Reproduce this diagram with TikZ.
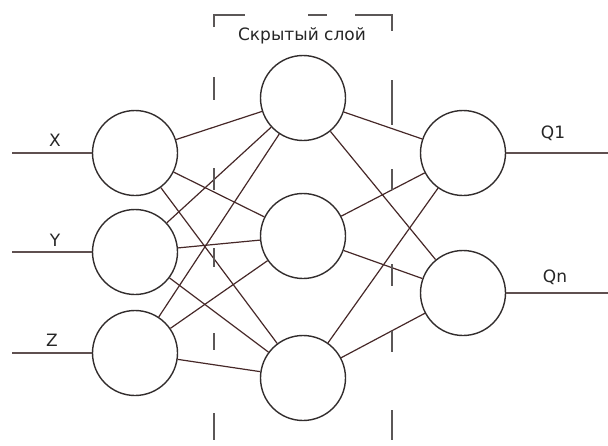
\documentclass[tikz,border=0pt]{standalone}
\usepackage{fontspec}
\setmainfont{DejaVu Sans}
\definecolor{nodeline}{RGB}{50,45,45}
\definecolor{edgeline}{RGB}{70,40,40}
\definecolor{inline}{RGB}{95,80,80}

\begin{document}
\begin{tikzpicture}[x=1pt,y=-1pt,
  neuron/.style={draw=nodeline,circle,line width=1.4pt,minimum size=85pt,inner sep=0pt},
  link/.style={draw=edgeline,line width=1.2pt},
  feed/.style={draw=inline,line width=1.5pt},
  frame/.style={draw=nodeline!80,line width=1.5pt},
  lbl/.style={font=\fontsize{17}{20}\selectfont,text=black!85}]
  \useasboundingbox (0,0) rectangle (608,445);

  % Layers
  \node[neuron] (x) at (135,153) {};
  \node[neuron] (y) at (135,252) {};
  \node[neuron] (z) at (135,353) {};
  \node[neuron] (h1) at (303,98) {};
  \node[neuron] (h2) at (303,236) {};
  \node[neuron] (h3) at (303,378) {};
  \node[neuron] (q1) at (463,153) {};
  \node[neuron] (qn) at (463,293) {};

  % Inputs and outputs
  \coordinate (xin) at (12,153);
  \coordinate (yin) at (12,252);
  \coordinate (zin) at (12,353);
  \coordinate (q1out) at (608,153);
  \coordinate (qnout) at (608,293);
  \path[feed] (xin) -- (x.west);
  \path[feed] (yin) -- (y.west);
  \path[feed] (zin) -- (z.west);
  \path[feed] (q1.east) -- (q1out);
  \path[feed] (qn.east) -- (qnout);
  \node[lbl] (xl) at (55,140) {X};
  \node[lbl] (yl) at (55,240) {Y};
  \node[lbl] (zl) at (52,340) {Z};
  \node[lbl] (q1l) at (553,133) {Q1};
  \node[lbl] (qnl) at (555,277) {Qn};

  % Connections
  \foreach \a in {x,y,z}
    \foreach \b in {h1,h2,h3}
      \path[link] (\a) -- (\b);
  \foreach \a in {h1,h2,h3}
    \foreach \b in {q1,qn}
      \path[link] (\a) -- (\b);

  % Hidden layer frame
  \path[frame] (214,27) -- (214,15) -- (245,15);
  \path[frame] (308,15) -- (327,15);
  \path[frame] (355,15) -- (392,15) -- (392,31);
  \foreach \s/\e in {77/100,168/190,248/267,333/350,413/440}
    \path[frame] (214,\s) -- (214,\e);
  \foreach \s/\e in {80/125,169/190,264/286,331/352,410/440}
    \path[frame] (392,\s) -- (392,\e);
  \node[lbl] (hl) at (302,36) {Скрытый слой};
\end{tikzpicture}
\end{document}
